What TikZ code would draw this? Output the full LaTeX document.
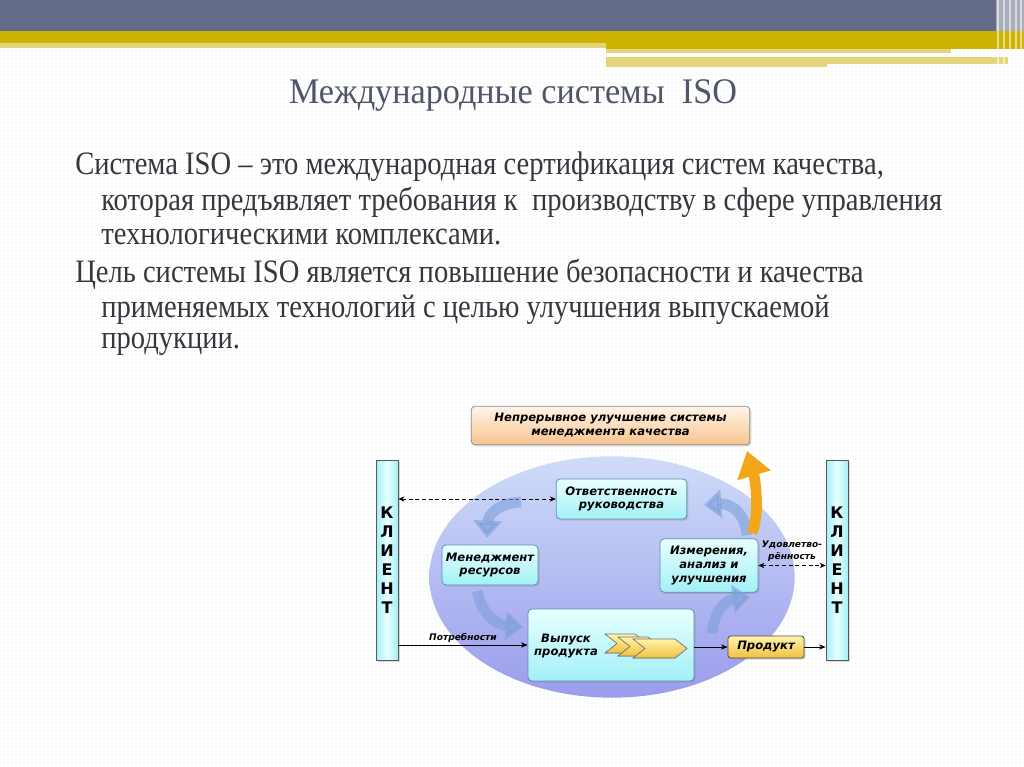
\documentclass[tikz,border=0pt]{standalone}
\usepackage{fontspec}
\setmainfont{Liberation Serif}
\newfontfamily\titlefont[FakeStretch=0.95]{Liberation Serif}
\newfontfamily\bodyfont[FakeStretch=0.875]{Liberation Serif}
\newfontfamily\diagfont{DejaVu Sans}
\usetikzlibrary{arrows.meta,calc,positioning,shadows,patterns,shapes.geometric}
\definecolor{headslate}{HTML}{646B86}
\definecolor{headgold}{HTML}{CDB400}
\definecolor{palegold}{HTML}{E4D57A}
\definecolor{titlegray}{HTML}{50566A}
\definecolor{textgray}{HTML}{36363E}
\definecolor{cyanbox}{HTML}{A2F0F6}
\definecolor{cyanlight}{HTML}{E8FFFF}
\definecolor{boxedge}{HTML}{5C90B4}
\definecolor{ovaltop}{HTML}{CFDCF8}
\definecolor{ovalbot}{HTML}{9A9CEC}
\definecolor{peachtop}{HTML}{FFF4E8}
\definecolor{peachbot}{HTML}{F8C48E}
\definecolor{goldtop}{HTML}{FFF4AA}
\definecolor{goldbot}{HTML}{F0C040}
\definecolor{arrowblue}{HTML}{7C9FDA}
\definecolor{arroworange}{HTML}{F2A618}
\tikzset{
  slide title/.style={font=\titlefont\fontsize{27}{31}\selectfont,text=titlegray},
  slide line/.style={anchor=west,inner sep=0pt,
    font=\bodyfont\fontsize{24.5}{29}\selectfont,text=textgray},
  box text/.style={align=center,inner sep=1pt,
    font=\diagfont\bfseries\itshape\fontsize{8.7}{10.4}\selectfont},
  quality box/.style={box text,rectangle,rounded corners=3pt,draw=boxedge,
    line width=0.6pt,top color=cyanlight,bottom color=cyanbox,
    drop shadow={opacity=0.3,shadow xshift=1.2pt,shadow yshift=-1.2pt}},
  improve box/.style={quality box,draw=black!45,top color=peachtop,
    bottom color=peachbot},
  product box/.style={quality box,draw=black!70,top color=goldtop,
    bottom color=goldbot,rounded corners=2pt},
  client bar/.style={rectangle,draw=black!65,line width=0.6pt,
    left color=cyanbox,right color=cyanbox,middle color=cyanlight,
    minimum width=16.5pt,minimum height=150pt,inner sep=0pt,align=center,
    font=\diagfont\bfseries\fontsize{12}{14.2}\selectfont,
    drop shadow={opacity=0.3,shadow xshift=1.2pt,shadow yshift=-1.2pt}},
  flow label/.style={font=\diagfont\bfseries\itshape\fontsize{6.8}{8.6}\selectfont,
    inner sep=1pt,align=center},
  flow edge/.style={-{Stealth[length=5pt,width=4pt]},line width=0.6pt},
  dotted edge/.style={{Stealth[length=4.5pt,width=4pt]}-{Stealth[length=4.5pt,width=4pt]},
    densely dashed,line width=0.6pt},
  cycle arrow/.style={-{Triangle[length=13pt,width=21pt]},line width=8pt,
    arrowblue,opacity=0.6},
  chevron/.style={draw=black!55,line width=0.5pt,top color=goldtop,
    bottom color=goldbot}
}
\begin{document}
\begin{tikzpicture}[x=0.75pt,y=-0.75pt]
  \useasboundingbox (0,0) rectangle (1024,767);
  \fill[white] (0,0) rectangle (1024,767);
  \fill[pattern=dots,pattern color=black!10] (0,0) rectangle (1024,767);
  % header bands
  \fill[headslate] (0,0) rectangle (996,31);
  \fill[headgold] (0,31) rectangle (1024,43);
  \fill[headgold] (606,43) rectangle (1024,49);
  \fill[palegold] (0,43) rectangle (606,48);
  \fill[palegold] (606,49) rectangle (951,53);
  \fill[palegold] (606,57) rectangle (827,67);
  \fill[palegold] (827,57) rectangle (1008,64);
  \fill[headslate!55] (996,0) rectangle (1024,31);
  \foreach \xs in {998,1004,1010,1016,1021}
    \draw[white,opacity=0.55,line width=1pt] (\xs,0) -- (\xs,70);

  \node[slide title] (title) at (513,95) {Международные системы \ ISO};
  \node[slide line] (lineone) at (75,167)
    {Система ISO – это международная сертификация систем качества,};
  \node[slide line] (linetwo) at (101,202)
    {которая предъявляет требования к \ производству в сфере управления};
  \node[slide line] (linethree) at (101,237) {технологическими комплексами.};
  \node[slide line] (linefour) at (75,274)
    {Цель системы ISO является повышение безопасности и качества};
  \node[slide line] (linefive) at (101,310)
    {применяемых технологий с целью улучшения выпускаемой};
  \node[slide line] (linesix) at (101,344) {продукции.};

  % diagram
  \node[ellipse,top color=ovaltop,bottom color=ovalbot,
    minimum width=274pt,minimum height=181pt] (oval) at (612,577) {};
  \node[improve box,minimum width=209pt,minimum height=29pt] (improve)
    at (610.5,425.5) {Непрерывное улучшение системы\\менеджмента качества};
  \node[client bar] (clientleft) at (387,560) {К\\Л\\И\\Е\\Н\\Т};
  \node[client bar] (clientright) at (837,560) {К\\Л\\И\\Е\\Н\\Т};
  \node[quality box,minimum width=98pt,minimum height=30pt] (duty)
    at (621.5,499) {Ответственность\\руководства};
  \node[quality box,minimum width=72pt,minimum height=30pt] (resource)
    at (490,565) {Менеджмент\\ресурсов};
  \node[quality box,minimum width=73.5pt,minimum height=40pt] (measure)
    at (709,565.5) {Измерения,\\анализ и\\улучшения};
  \node[quality box,minimum width=124.5pt,minimum height=54pt] (release)
    at (611,645) {};
  \node[box text] (releasetext) at (566,646) {Выпуск\\продукта};
  \node[product box,minimum width=57pt,minimum height=16.5pt] (product)
    at (766,647) {Продукт};

  \foreach \dx/\dy/\len in {0/0/42,13/3/42,28/5/54}
    \filldraw[chevron] (605+\dx,634+\dy) -- ++({\len-12},0) -- ++(12,9.5)
      -- ++(-12,9.5) -- ++({-(\len-12)},0) -- ++(12,-9.5) -- cycle;

  \draw[dotted edge] (clientleft.east |- duty.west) -- (duty.west);
  \draw[dotted edge] (measure.east) -- (clientright.west |- measure.east)
    node[flow label,midway,above=2pt] (satisfaction) {Удовлетво-\\рённость};
  \draw[flow edge] (clientleft.east |- release.west) -- (release.west)
    node[flow label,midway,above=1pt] (needs) {Потребности};
  \draw[flow edge] (release.east |- product.west) -- (product.west);
  \draw[flow edge] (product.east) -- (clientright.west |- product.east);

  \draw[cycle arrow] (521,502) .. controls (498,503) and (488,515) .. (487,538);
  \draw[cycle arrow] (477,591) .. controls (482,615) and (497,625) .. (523,627);
  \draw[cycle arrow] (712,633) .. controls (714,612) and (725,600) .. (750,597);
  \draw[cycle arrow] (747,535) .. controls (745,512) and (730,503) .. (704,505);
  \draw[-{Triangle[length=19pt,width=25pt]},line width=8pt,arroworange]
    (752,533) .. controls (761,510) and (754,475) .. (747,451);
\end{tikzpicture}
\end{document}
